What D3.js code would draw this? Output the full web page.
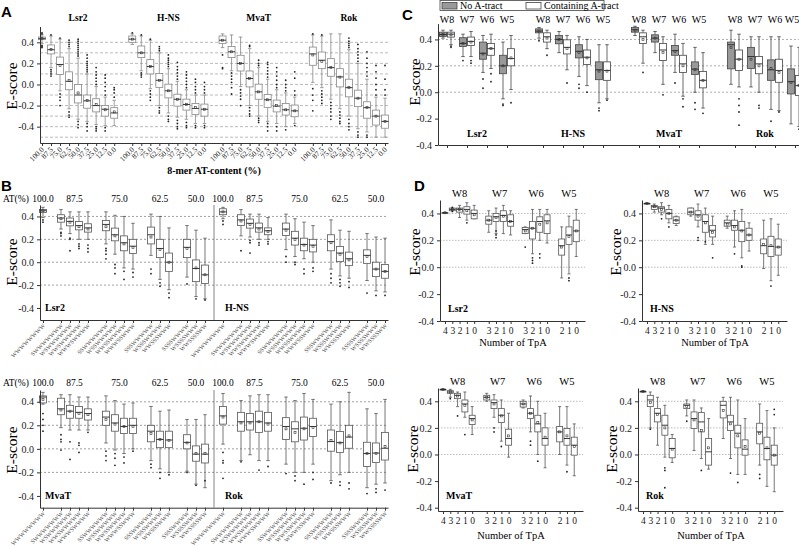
<!DOCTYPE html>
<html>
<head>
<meta charset="UTF-8">
<style>
  body { margin: 0; background: #fff; }
  svg { display: block; }
</style>
</head>
<body>
<div id="chart"></div>
<script src="https://d3js.org/d3.v7.min.js"></script>
<script>
// box rows: [lowWhisker, q1, median, q3, highWhisker, mean, [outliers]]
const proteins = ["Lsr2", "H-NS", "MvaT", "Rok"];

// ---- panel A: 8-mer AT-content
const aTicks = ["100.0", "87.5", "75.0", "62.5", "50.0", "37.5", "25.0", "12.5", "0.0"];
const aLsr2 = [
  [0.39, 0.425, 0.435, 0.45, 0.47, 0.435, [0.35, 0.36, 0.37, 0.48, 0.49]],
  [0.16, 0.29, 0.33, 0.375, 0.46, 0.33, [0.08, 0.1, 0.12, 0.14, 0.47]],
  [-0.06, 0.095, 0.19, 0.26, 0.43, 0.18, [-0.09, -0.12, -0.15, -0.2, 0.44]],
  [-0.23, -0.05, 0.03, 0.12, 0.34, 0.04, [0.36, 0.38, 0.4, 0.42, -0.26, -0.29, -0.31]],
  [-0.33, -0.175, -0.1, 0.0, 0.25, -0.08, [0.27, 0.29, 0.31, 0.33, 0.35, 0.37, 0.39, 0.41, 0.43, -0.35, -0.38, -0.41]],
  [-0.35, -0.225, -0.155, -0.1, 0.1, -0.15, [0.12, 0.14, 0.16, 0.18, 0.2, 0.22, 0.25, 0.28, -0.37, -0.4, -0.44]],
  [-0.38, -0.26, -0.2, -0.135, -0.02, -0.19, [0.0, 0.03, 0.06, 0.09, 0.12, 0.16, -0.4, -0.42, -0.44]],
  [-0.39, -0.3, -0.235, -0.2, -0.12, -0.24, [-0.1, -0.06, -0.02, 0.02, 0.06, 0.09, -0.41, -0.44]],
  [-0.39, -0.32, -0.27, -0.22, -0.15, -0.26, [-0.12, -0.08, -0.05, -0.03]]
];
const aHNS = [
  [0.38, 0.4, 0.43, 0.46, 0.48, 0.43, [0.49]],
  [0.13, 0.255, 0.3, 0.365, 0.46, 0.3, [0.07, 0.09, 0.11, 0.47]],
  [-0.04, 0.1, 0.17, 0.236, 0.42, 0.17, [-0.06, -0.09, -0.12, -0.15, 0.43]],
  [-0.2, -0.028, 0.04, 0.104, 0.3, 0.04, [0.32, 0.34, 0.36, -0.22, -0.25, -0.27]],
  [-0.27, -0.127, -0.06, 0.003, 0.15, -0.06, [0.17, 0.19, 0.21, 0.23, 0.25, 0.28, -0.3, -0.33, -0.35]],
  [-0.31, -0.205, -0.14, -0.092, 0.03, -0.14, [0.05, 0.08, 0.11, 0.14, 0.17, 0.21, -0.34, -0.37, -0.4, -0.42]],
  [-0.33, -0.243, -0.19, -0.139, -0.05, -0.19, [-0.03, 0.0, 0.03, 0.06, 0.09, 0.12, -0.36, -0.39, -0.41]],
  [-0.37, -0.284, -0.227, -0.18, -0.1, -0.22, [-0.08, -0.05, -0.02, 0.02, 0.05, -0.39, -0.41]],
  [-0.37, -0.3, -0.235, -0.186, -0.1, -0.235, [-0.08, -0.05, -0.02, 0.02, -0.39, -0.41]]
];
const aMvaT = [
  [0.35, 0.39, 0.42, 0.46, 0.48, 0.42, [0.28, 0.16, 0.15]],
  [0.13, 0.255, 0.31, 0.36, 0.47, 0.31, [0.11, 0.08, 0.05, 0.02, -0.03, -0.09]],
  [-0.02, 0.128, 0.2, 0.277, 0.45, 0.2, [-0.05, -0.08, -0.11, -0.14, -0.2]],
  [-0.2, -0.023, 0.057, 0.128, 0.34, 0.057, [0.36, 0.37, -0.22, -0.25, -0.28, -0.3]],
  [-0.3, -0.14, -0.07, 0.003, 0.16, -0.07, [0.18, 0.2, 0.23, -0.32, -0.34, -0.36]],
  [-0.35, -0.217, -0.145, -0.095, 0.05, -0.145, [0.07, 0.1, 0.13, 0.16, 0.19, 0.21, -0.37, -0.4, -0.44]],
  [-0.37, -0.26, -0.205, -0.148, -0.05, -0.2, [-0.03, 0.0, 0.04, 0.08, 0.12, 0.16, -0.4, -0.44]],
  [-0.4, -0.29, -0.24, -0.18, -0.08, -0.24, [-0.06, -0.03, 0.0, 0.04, -0.43]],
  [-0.37, -0.306, -0.25, -0.195, -0.12, -0.25, [-0.1, -0.06, 0.06, 0.12, -0.39]]
];
const aRok = [
  [0.02, 0.182, 0.29, 0.355, 0.47, 0.28, [-0.04, -0.1, -0.15, -0.25, 0.48]],
  [-0.03, 0.15, 0.23, 0.308, 0.46, 0.22, [-0.06, -0.09, -0.12, -0.15, -0.18, 0.47]],
  [-0.14, 0.078, 0.16, 0.245, 0.48, 0.16, [-0.17, -0.2, -0.23, -0.26, -0.3, -0.33]],
  [-0.23, -0.023, 0.072, 0.15, 0.48, 0.07, [-0.26, -0.29, -0.32, -0.35, -0.37]],
  [-0.3, -0.117, -0.03, 0.05, 0.33, -0.03, [0.35, 0.37, 0.39, 0.41, 0.44, -0.33, -0.37, -0.4, -0.43]],
  [-0.42, -0.21, -0.13, -0.054, 0.2, -0.13, [0.22, 0.25, 0.28, 0.31, 0.34, 0.38, -0.45, -0.48, -0.5]],
  [-0.45, -0.32, -0.22, -0.164, 0.05, -0.22, [0.08, 0.12, 0.16, 0.2, 0.25, 0.31, -0.48, -0.5]],
  [-0.5, -0.385, -0.3, -0.243, -0.12, -0.3, [-0.1, -0.05, 0.0, 0.06, 0.12, 0.18]],
  [-0.5, -0.415, -0.35, -0.29, -0.13, -0.35, [-0.1, -0.05, 0.05, 0.18]]
];

// ---- panel B: AT(%) groups and 8-mer patterns
const bGroups = ["100.0", "87.5", "75.0", "62.5", "50.0"];
const bGroupSlots = [0, 3.5, 8.5, 13, 17];
const bSlots = [0, 2, 3, 4, 5, 7, 8, 9, 10, 12, 13, 14, 16, 17, 18];
const bPatterns = ["WWWWWWWW", "SWWWWWWW", "WSWWWWWW", "WWSWWWWW", "WWWSWWWW",
  "SSWWWWWW", "WSSWWWWW", "WWSSWWWW", "WWWSSWWW", "SSSWWWWW", "WSSSWWWW", "WWSSSWWW",
  "SSSSWWWW", "WSSSSWWW", "WWSSSSWW"];
const bLsr2 = [
  [0.39, 0.435, 0.45, 0.46, 0.48, 0.45, [0.35, 0.37]],
  [0.29, 0.35, 0.386, 0.415, 0.46, 0.38, [0.23, 0.25, 0.26]],
  [0.25, 0.318, 0.357, 0.386, 0.44, 0.35, [0.1, 0.2, 0.21]],
  [0.2, 0.283, 0.32, 0.356, 0.44, 0.31, [0.12, 0.14, 0.16]],
  [0.2, 0.263, 0.3, 0.336, 0.44, 0.29, [0.09, 0.12, 0.15]],
  [0.16, 0.275, 0.33, 0.365, 0.44, 0.31, [0.03, 0.07, 0.1, 0.12]],
  [0.07, 0.187, 0.24, 0.298, 0.41, 0.23, [-0.02, -0.05, -0.1]],
  [-0.05, 0.1, 0.17, 0.23, 0.4, 0.16, [-0.08, -0.15]],
  [-0.06, 0.076, 0.14, 0.2, 0.34, 0.13, [-0.09, -0.13]],
  [0.06, 0.16, 0.24, 0.307, 0.42, 0.22, [-0.06, -0.1]],
  [-0.15, 0.04, 0.12, 0.2, 0.4, 0.11, [-0.18, -0.21]],
  [-0.24, -0.08, 0.0, 0.08, 0.3, 0.0, [-0.27, -0.31]],
  [-0.13, 0.04, 0.13, 0.2, 0.32, 0.12, [-0.19]],
  [-0.3, -0.17, -0.055, 0.02, 0.28, -0.05, [-0.32]],
  [-0.32, -0.185, -0.11, -0.025, 0.21, -0.11, [-0.33]]
];
const bHNS = [
  [0.38, 0.415, 0.44, 0.467, 0.48, 0.44, [0.36, 0.33]],
  [0.23, 0.32, 0.37, 0.415, 0.46, 0.36, [0.1]],
  [0.22, 0.298, 0.34, 0.377, 0.42, 0.33, [0.08, 0.17, 0.19]],
  [0.2, 0.263, 0.3, 0.342, 0.42, 0.29, [0.15, 0.17]],
  [0.2, 0.24, 0.275, 0.3, 0.39, 0.27, [0.16, 0.18]],
  [0.11, 0.233, 0.29, 0.342, 0.42, 0.28, [0.0, 0.05]],
  [0.05, 0.15, 0.21, 0.27, 0.38, 0.2, [-0.02, 0.0]],
  [0.03, 0.1, 0.155, 0.21, 0.35, 0.15, [-0.06, -0.1]],
  [0.0, 0.09, 0.15, 0.2, 0.32, 0.14, [-0.05, -0.08]],
  [-0.06, 0.1, 0.18, 0.24, 0.37, 0.17, [-0.1, -0.14, -0.18]],
  [-0.12, 0.005, 0.08, 0.137, 0.28, 0.07, [-0.15, -0.18, -0.21]],
  [-0.14, -0.03, 0.03, 0.088, 0.27, 0.02, [-0.17, -0.22]],
  [-0.16, -0.01, 0.06, 0.108, 0.25, 0.05, [-0.27]],
  [-0.25, -0.126, -0.06, 0.0, 0.22, -0.06, [-0.29]],
  [-0.26, -0.14, -0.08, -0.02, 0.21, -0.08, [-0.29]]
];
const bMvaT = [
  [0.38, 0.39, 0.44, 0.45, 0.48, 0.42, [0.3, 0.25, 0.2, 0.15]],
  [0.18, 0.29, 0.34, 0.43, 0.46, 0.33, [0.12, 0.08, 0.06, -0.01]],
  [0.16, 0.26, 0.32, 0.37, 0.46, 0.32, [0.06, -0.09]],
  [0.16, 0.26, 0.31, 0.36, 0.44, 0.3, [0.05, 0.03, -0.03]],
  [0.16, 0.245, 0.3, 0.34, 0.44, 0.29, [0.14]],
  [0.05, 0.2, 0.27, 0.32, 0.45, 0.25, [-0.02, -0.06, -0.1]],
  [-0.01, 0.15, 0.22, 0.29, 0.41, 0.21, [-0.04, -0.08, -0.14]],
  [-0.04, 0.13, 0.19, 0.26, 0.38, 0.19, [-0.07, -0.12]],
  [0.0, 0.13, 0.2, 0.26, 0.39, 0.19, [-0.02]],
  [-0.1, 0.06, 0.15, 0.2, 0.36, 0.13, [-0.13, -0.16]],
  [-0.17, 0.01, 0.08, 0.15, 0.32, 0.08, [-0.2, -0.25]],
  [-0.2, 0.01, 0.075, 0.15, 0.33, 0.07, [-0.22]],
  [-0.19, 0.0, 0.055, 0.12, 0.25, 0.05, [-0.2]],
  [-0.3, -0.105, -0.045, 0.025, 0.25, -0.04, [-0.31]],
  [-0.33, -0.12, -0.045, 0.04, 0.29, -0.04, [-0.27]]
];
const bRok = [
  [0.04, 0.21, 0.28, 0.36, 0.47, 0.27, [-0.03, -0.1, -0.12, -0.25]],
  [-0.1, 0.15, 0.23, 0.31, 0.41, 0.22, [-0.11]],
  [-0.05, 0.16, 0.23, 0.3, 0.45, 0.22, []],
  [-0.1, 0.14, 0.23, 0.32, 0.46, 0.23, [-0.18]],
  [-0.1, 0.15, 0.22, 0.31, 0.46, 0.21, [-0.15]],
  [-0.13, 0.08, 0.19, 0.265, 0.44, 0.17, [-0.21]],
  [-0.2, 0.06, 0.17, 0.23, 0.41, 0.14, [-0.23, -0.27]],
  [-0.2, 0.075, 0.175, 0.27, 0.47, 0.17, [-0.3]],
  [-0.13, 0.105, 0.19, 0.26, 0.42, 0.18, [-0.2, -0.26]],
  [-0.27, -0.02, 0.062, 0.16, 0.38, 0.07, [-0.29]],
  [-0.22, -0.03, 0.053, 0.147, 0.4, 0.05, [-0.28, -0.31]],
  [-0.2, 0.005, 0.1, 0.2, 0.48, 0.11, [-0.29, -0.34]],
  [-0.33, -0.15, -0.04, 0.056, 0.34, -0.04, [-0.38]],
  [-0.3, -0.115, -0.036, 0.05, 0.3, -0.04, [-0.34, -0.37]],
  [-0.29, -0.095, 0.005, 0.14, 0.42, 0.02, [-0.35]]
];

// ---- panel C: windows, no A-tract / containing A-tract pairs
const windows = ["W8", "W7", "W6", "W5"];
const cSeries = ["No A-tract", "Containing A-tract"];
const cLsr2 = [
  [0.41, 0.423, 0.437, 0.455, 0.47, 0.437, []],
  [0.36, 0.418, 0.44, 0.455, 0.47, 0.435, [0.34, 0.35]],
  [0.27, 0.347, 0.37, 0.413, 0.44, 0.37, [0.24]],
  [0.27, 0.354, 0.385, 0.418, 0.46, 0.38, [0.22, 0.24]],
  [0.15, 0.25, 0.295, 0.38, 0.43, 0.29, [0.1, 0.03]],
  [0.18, 0.28, 0.33, 0.37, 0.44, 0.33, [0.08, 0.14]],
  [-0.05, 0.14, 0.2, 0.28, 0.38, 0.2, [-0.1, -0.09]],
  [0.02, 0.2, 0.255, 0.33, 0.43, 0.26, [-0.08]]
];
const cHNS = [
  [0.41, 0.45, 0.463, 0.48, 0.49, 0.463, [0.39]],
  [0.33, 0.38, 0.42, 0.45, 0.47, 0.41, [0.28]],
  [0.3, 0.367, 0.4, 0.43, 0.46, 0.4, []],
  [0.17, 0.29, 0.34, 0.397, 0.43, 0.33, [0.07]],
  [0.12, 0.26, 0.31, 0.36, 0.42, 0.3, [0.03, 0.06]],
  [0.05, 0.21, 0.265, 0.32, 0.4, 0.26, [0.0]],
  [-0.08, 0.095, 0.17, 0.23, 0.36, 0.16, [-0.12, -0.14]],
  [-0.05, 0.09, 0.165, 0.23, 0.36, 0.16, [-0.06]]
];
const cMvaT = [
  [0.43, 0.455, 0.473, 0.49, 0.5, 0.47, []],
  [0.22, 0.37, 0.42, 0.45, 0.47, 0.4, [0.15]],
  [0.3, 0.38, 0.41, 0.435, 0.46, 0.41, []],
  [0.06, 0.24, 0.32, 0.37, 0.42, 0.3, [-0.02]],
  [0.15, 0.28, 0.315, 0.354, 0.44, 0.31, [0.07]],
  [-0.03, 0.15, 0.215, 0.28, 0.37, 0.2, [-0.11, -0.05]],
  [0.0, 0.135, 0.175, 0.23, 0.34, 0.17, [-0.13, -0.08]],
  [-0.12, 0.033, 0.09, 0.157, 0.3, 0.09, [-0.16]]
];
const cRok = [
  [0.06, 0.177, 0.36, 0.38, 0.47, 0.34, []],
  [0.04, 0.165, 0.25, 0.32, 0.44, 0.25, [-0.05, -0.1, -0.15, -0.25]],
  [0.04, 0.18, 0.27, 0.34, 0.42, 0.25, []],
  [0.0, 0.14, 0.215, 0.27, 0.42, 0.2, [-0.1, -0.12]],
  [-0.13, 0.09, 0.17, 0.245, 0.42, 0.18, [-0.22]],
  [-0.14, 0.075, 0.165, 0.25, 0.42, 0.15, [-0.15]],
  [-0.24, -0.013, 0.08, 0.177, 0.35, 0.075, []],
  [-0.26, -0.025, 0.05, 0.127, 0.34, 0.05, [-0.28]]
];

// ---- panel D: number of TpA per window
const dSlots = [0, 1, 2, 3, 4, 6, 7, 8, 9, 11, 12, 13, 14, 16, 17, 18];
const dTicks = ["4", "3", "2", "1", "0", "3", "2", "1", "0", "3", "2", "1", "0", "2", "1", "0"];
const dWindowSlots = [2, 7.5, 12.5, 17];
const dLsr2 = [
  [0.405, 0.405, 0.405, 0.405, 0.405, 0.405, []],
  [0.42, 0.42, 0.43, 0.44, 0.44, 0.43, [0.445, 0.415]],
  [0.37, 0.41, 0.43, 0.44, 0.46, 0.43, []],
  [0.35, 0.395, 0.43, 0.45, 0.48, 0.42, [0.33]],
  [0.36, 0.36, 0.4, 0.425, 0.46, 0.39, []],
  [0.26, 0.32, 0.35, 0.38, 0.42, 0.35, []],
  [0.25, 0.34, 0.375, 0.4, 0.44, 0.37, [0.22, 0.24, 0.27]],
  [0.25, 0.34, 0.385, 0.42, 0.46, 0.38, []],
  [0.24, 0.305, 0.34, 0.39, 0.42, 0.34, []],
  [0.25, 0.25, 0.28, 0.295, 0.3, 0.27, [0.15]],
  [0.1, 0.21, 0.29, 0.34, 0.43, 0.29, [0.03, 0.05, 0.07]],
  [0.2, 0.26, 0.34, 0.375, 0.43, 0.32, [0.07, 0.1]],
  [0.18, 0.25, 0.345, 0.39, 0.43, 0.33, []],
  [-0.08, 0.09, 0.16, 0.21, 0.3, 0.15, []],
  [-0.05, 0.17, 0.24, 0.3, 0.38, 0.23, [-0.08, -0.1]],
  [0.08, 0.19, 0.27, 0.35, 0.43, 0.27, []]
];
const dHNS = [
  [0.475, 0.475, 0.475, 0.475, 0.475, 0.475, []],
  [0.41, 0.43, 0.45, 0.46, 0.47, 0.45, []],
  [0.39, 0.41, 0.44, 0.45, 0.48, 0.43, [0.36]],
  [0.33, 0.36, 0.4, 0.43, 0.46, 0.4, [0.3]],
  [0.31, 0.325, 0.35, 0.375, 0.38, 0.35, []],
  [0.38, 0.39, 0.41, 0.44, 0.44, 0.41, []],
  [0.3, 0.35, 0.39, 0.42, 0.47, 0.38, [0.2, 0.22]],
  [0.17, 0.26, 0.34, 0.39, 0.44, 0.33, [0.19]],
  [0.17, 0.225, 0.275, 0.31, 0.38, 0.26, [0.07]],
  [0.29, 0.305, 0.33, 0.35, 0.38, 0.32, []],
  [0.15, 0.275, 0.31, 0.35, 0.42, 0.3, [0.1]],
  [0.07, 0.19, 0.275, 0.34, 0.43, 0.27, [0.0, 0.01]],
  [0.12, 0.2, 0.24, 0.29, 0.33, 0.24, []],
  [-0.01, 0.1, 0.16, 0.21, 0.35, 0.17, []],
  [-0.1, 0.08, 0.155, 0.23, 0.36, 0.16, [-0.14]],
  [-0.06, 0.09, 0.15, 0.21, 0.32, 0.15, []]
];
const dMvaT = [
  [0.49, 0.49, 0.49, 0.49, 0.49, 0.49, []],
  [0.43, 0.46, 0.47, 0.48, 0.49, 0.47, [0.42]],
  [0.36, 0.42, 0.445, 0.46, 0.47, 0.44, [0.29]],
  [0.28, 0.32, 0.38, 0.41, 0.47, 0.37, [0.15]],
  [0.15, 0.225, 0.27, 0.295, 0.36, 0.26, []],
  [0.4, 0.41, 0.43, 0.445, 0.46, 0.43, []],
  [0.28, 0.345, 0.39, 0.41, 0.45, 0.38, [0.2, 0.17]],
  [0.1, 0.24, 0.295, 0.345, 0.41, 0.29, [0.06]],
  [-0.02, 0.07, 0.12, 0.19, 0.31, 0.14, []],
  [0.35, 0.357, 0.38, 0.4, 0.41, 0.38, []],
  [0.17, 0.27, 0.31, 0.345, 0.44, 0.31, [0.1, 0.07]],
  [0.0, 0.17, 0.23, 0.295, 0.4, 0.24, [-0.05]],
  [-0.1, 0.07, 0.12, 0.2, 0.31, 0.13, []],
  [0.0, 0.095, 0.17, 0.21, 0.36, 0.17, []],
  [-0.08, 0.07, 0.12, 0.195, 0.36, 0.14, [-0.13]],
  [-0.16, -0.005, 0.07, 0.13, 0.23, 0.06, []]
];
const dRok = [
  [0.475, 0.475, 0.475, 0.475, 0.475, 0.475, []],
  [0.2, 0.36, 0.41, 0.445, 0.47, 0.39, [0.19]],
  [0.07, 0.245, 0.31, 0.345, 0.43, 0.3, []],
  [-0.02, 0.145, 0.22, 0.295, 0.37, 0.2, [-0.1, -0.12, -0.25]],
  [-0.06, -0.025, 0.045, 0.12, 0.15, 0.04, []],
  [0.29, 0.345, 0.37, 0.38, 0.41, 0.36, [0.25]],
  [0.03, 0.195, 0.27, 0.32, 0.41, 0.26, []],
  [-0.03, 0.17, 0.245, 0.315, 0.35, 0.18, [-0.12]],
  [-0.11, -0.08, 0.02, 0.12, 0.27, 0.05, []],
  [0.12, 0.275, 0.37, 0.4, 0.43, 0.33, []],
  [-0.03, 0.18, 0.245, 0.295, 0.43, 0.23, [-0.14]],
  [-0.15, 0.05, 0.16, 0.22, 0.41, 0.14, [-0.21]],
  [-0.15, -0.005, 0.04, 0.11, 0.27, 0.06, []],
  [-0.08, 0.08, 0.17, 0.235, 0.38, 0.16, [-0.15, -0.18]],
  [-0.24, -0.04, 0.045, 0.13, 0.33, 0.05, []],
  [-0.28, -0.08, -0.005, 0.07, 0.2, -0.005, [0.34, 0.3]]
];

const serif = "'Liberation Serif','Times New Roman',serif";
const sans = "'Liberation Sans',Arial,sans-serif";
const fmt = d => d.toFixed(1);

const svg = d3.select("#chart").append("svg")
  .attr("width", 799).attr("height", 546)
  .style("background", "#fff");

function styleAxis(sel, size) {
  sel.attr("font-family", serif).attr("font-size", size || 10);
  sel.select(".domain").attr("stroke", "#333");
  sel.selectAll(".tick line").attr("stroke", "#333");
  sel.selectAll(".tick text").attr("fill", "#222");
}

function grid(g, y, vals, x0, x1, dash, color) {
  g.append("g").selectAll("line").data(vals).join("line")
    .attr("x1", x0).attr("x2", x1)
    .attr("y1", d => y(d)).attr("y2", d => y(d))
    .attr("stroke", color).attr("stroke-width", 0.8)
    .attr("stroke-dasharray", dash);
}

function drawBoxes(g, data, xs, y, w, fill, stroke) {
  const b = g.append("g").selectAll("g").data(data).join("g")
    .attr("transform", (d, i) => `translate(${xs[i]},0)`);
  b.append("line").attr("y1", d => y(d[4])).attr("y2", d => y(d[3]))
    .attr("stroke", stroke).attr("stroke-width", 0.8);
  b.append("line").attr("y1", d => y(d[1])).attr("y2", d => y(d[0]))
    .attr("stroke", stroke).attr("stroke-width", 0.8);
  b.selectAll(".cap").data(d => [d[0], d[4]]).join("line").attr("class", "cap")
    .attr("x1", -w * 0.25).attr("x2", w * 0.25)
    .attr("y1", d => y(d)).attr("y2", d => y(d))
    .attr("stroke", stroke).attr("stroke-width", 0.8);
  b.append("rect")
    .attr("x", -w / 2).attr("width", w)
    .attr("y", d => y(d[3])).attr("height", d => Math.max(0.8, y(d[1]) - y(d[3])))
    .attr("fill", (d, i) => typeof fill === "function" ? fill(i) : fill)
    .attr("stroke", stroke).attr("stroke-width", 0.8);
  b.append("line").attr("x1", -w / 2).attr("x2", w / 2)
    .attr("y1", d => y(d[2])).attr("y2", d => y(d[2]))
    .attr("stroke", "#222").attr("stroke-width", 0.9);
  b.append("rect")
    .attr("x", -1).attr("width", 2).attr("y", d => y(d[5]) - 1).attr("height", 2)
    .attr("fill", "none").attr("stroke", "#333").attr("stroke-width", 0.6);
  b.selectAll(".out").data(d => d[6]).join("circle").attr("class", "out")
    .attr("cy", d => y(d)).attr("r", 0.9).attr("fill", "#222");
}

function panelLetter(t, x, y) {
  svg.append("text").attr("x", x).attr("y", y).text(t)
    .attr("font-family", sans).attr("font-weight", "bold").attr("font-size", 15);
}

function yLabel(x, y, size) {
  svg.append("text").attr("transform", `translate(${x},${y}) rotate(-90)`)
    .attr("text-anchor", "middle").attr("font-family", serif)
    .attr("font-size", size || 15.5).text("E-score");
}

// ================= Panel A =================
panelLetter("A", 1, 17);
const gA = svg.append("g");
const xA = d3.scaleLinear().domain([-0.22, 38.33]).range([40, 388]);
const yA = d3.scaleLinear().domain([-0.555, 0.55]).range([143, 26.5]);
grid(gA, yA, d3.range(-5, 5).map(v => v / 10), 40, 388, "3,2", "#aaa");

const aData = [aLsr2, aHNS, aMvaT, aRok];
const aSlots = [], aLabels = [];
proteins.forEach((p, pi) => {
  aTicks.forEach((t, i) => { aSlots.push(pi * 10 + i); aLabels.push(t); });
  drawBoxes(gA, aData[pi], aTicks.map((t, i) => xA(pi * 10 + i)), yA, 7, "#fff", "#888");
  gA.append("text").attr("x", xA(pi * 10 + 4)).attr("y", 21)
    .attr("text-anchor", "middle").attr("font-family", serif)
    .attr("font-weight", "bold").attr("font-size", 9.5).text(p);
});
const axA = gA.append("g").attr("transform", "translate(0,143)")
  .call(d3.axisBottom(xA).tickValues(aSlots).tickFormat((d, i) => aLabels[i]).tickSize(3).tickSizeOuter(0));
styleAxis(axA, 7.5);
axA.selectAll(".tick text").attr("y", 0).attr("dy", 0)
  .attr("transform", "translate(2,7) rotate(-45)").attr("text-anchor", "end");
const ayA = gA.append("g").attr("transform", "translate(40,0)")
  .call(d3.axisLeft(yA).tickValues([-0.4, -0.2, 0, 0.2, 0.4]).tickFormat(fmt).tickSize(3).tickSizeOuter(0));
styleAxis(ayA, 10);
gA.append("text").attr("x", 214).attr("y", 174).attr("text-anchor", "middle")
  .attr("font-family", serif).attr("font-weight", "bold").attr("font-size", 10)
  .text("8-mer AT-content (%)");
yLabel(17, 86);

// ================= Panel B =================
panelLetter("B", 1, 191);
const xB = d3.scaleLinear().domain([-0.33, 38.33]).range([40, 388]);
function panelB(top, bottom, yDomain, headerY, leftData, rightData, names) {
  const g = svg.append("g");
  const y = d3.scaleLinear().domain(yDomain).range([bottom, top]);
  grid(g, y, [-0.2, 0, 0.2, 0.4], 40, 388, "2,2", "#888");
  g.append("line").attr("x1", xB(19)).attr("x2", xB(19)).attr("y1", top).attr("y2", bottom)
    .attr("stroke", "#666").attr("stroke-width", 0.8);
  const slots = [], labels = [];
  [leftData, rightData].forEach((data, k) => {
    const off = k * 20;
    drawBoxes(g, data, bSlots.map(s => xB(s + off)), y, 7, "#fff", "#555");
    bSlots.forEach((s, i) => { slots.push(s + off); labels.push(bPatterns[i]); });
    bGroups.forEach((t, i) => {
      g.append("text").attr("x", xB(bGroupSlots[i] + off)).attr("y", headerY)
        .attr("text-anchor", "middle").attr("font-family", serif).attr("font-size", 9.5).text(t);
    });
    g.append("text").attr("x", xB(off) + 2).attr("y", bottom - 9)
      .attr("font-family", serif).attr("font-weight", "bold").attr("font-size", 10).text(names[k]);
  });
  g.append("text").attr("x", 3).attr("y", headerY).attr("font-family", serif)
    .attr("font-size", 9.5).text("AT(%)");
  const ax = g.append("g").attr("transform", `translate(0,${bottom})`)
    .call(d3.axisBottom(xB).tickValues(slots).tickFormat((d, i) => labels[i]).tickSize(3).tickSizeOuter(0));
  styleAxis(ax, 6);
  ax.selectAll(".tick text").attr("y", 0).attr("dy", 0)
    .attr("transform", "translate(2,6) rotate(-45)").attr("text-anchor", "end").attr("fill", "#555");
  const ay = g.append("g").attr("transform", "translate(40,0)")
    .call(d3.axisLeft(y).tickValues([-0.4, -0.2, 0, 0.2, 0.4]).tickFormat(fmt).tickSize(3).tickSizeOuter(0));
  styleAxis(ay, 10);
}
panelB(205, 320, [-0.505, 0.5], 202, bLsr2, bHNS, ["Lsr2", "H-NS"]);
panelB(390, 507.7, [-0.5, 0.5], 386, bMvaT, bRok, ["MvaT", "Rok"]);
yLabel(17, 262);
yLabel(17, 450);

// ================= Panel C =================
panelLetter("C", 402, 20);
const gC = svg.append("g");
const yC = d3.scaleLinear().domain([-0.4, 0.52]).range([145, 23.6]);
const pC = d3.scaleBand().domain(proteins).range([438, 822]);
const wC = d3.scalePoint().domain(windows).range([9, 69]);
grid(gC, yC, [0, 0.2, 0.4], 438, 799, "2,2", "#999");
const cData = [cLsr2, cHNS, cMvaT, cRok];
const cXs = [];
proteins.forEach((p, pi) => {
  const xs = [];
  windows.forEach(w => { const c = pC(p) + wC(w); xs.push(c - 4, c + 4); cXs.push(c); });
  drawBoxes(gC, cData[pi], xs, yC, 7, i => i % 2 === 0 ? "#999" : "#fff", "#444");
  windows.forEach(w => {
    gC.append("text").attr("x", Math.min(pC(p) + wC(w), 792)).attr("y", 23).attr("text-anchor", "middle")
      .attr("font-family", serif).attr("font-size", 10).text(w);
  });
  gC.append("text").attr("x", pC(p) + 39).attr("y", 137).attr("text-anchor", "middle")
    .attr("font-family", serif).attr("font-weight", "bold").attr("font-size", 10).text(p);
});
const xCaxis = d3.scaleLinear().domain([438, 799]).range([438, 799]);
const axC = gC.append("g").attr("transform", "translate(0,145)")
  .call(d3.axisBottom(xCaxis).tickValues(cXs).tickFormat("").tickSize(3).tickSizeOuter(0));
styleAxis(axC, 8);
const ayC = gC.append("g").attr("transform", "translate(438,0)")
  .call(d3.axisLeft(yC).tickValues([-0.4, -0.2, 0, 0.2, 0.4]).tickFormat(fmt).tickSize(3).tickSizeOuter(0));
styleAxis(ayC, 10);
yLabel(420, 82);
// legend
const lg = svg.append("g");
lg.append("rect").attr("x", 440).attr("y", 0.5).attr("width", 164).attr("height", 10)
  .attr("fill", "#fff").attr("stroke", "#444").attr("stroke-width", 0.8);
cSeries.forEach((s, i) => {
  const x0 = i === 0 ? 442 : 526;
  lg.append("rect").attr("x", x0).attr("y", 2.5).attr("width", 15).attr("height", 6.5)
    .attr("fill", i === 0 ? "#999" : "#fff").attr("stroke", "#444").attr("stroke-width", 0.8);
  lg.append("text").attr("x", x0 + 18).attr("y", 9).attr("font-family", serif)
    .attr("font-size", 10).text(s);
});

// ================= Panel D =================
panelLetter("D", 414, 191);
function panelD(x0, top, bottom, yMin, data, name, labelX, labelY, titleY) {
  const g = svg.append("g");
  const y = d3.scaleLinear().domain([yMin, 0.5]).range([bottom, top]);
  const x = d3.scaleLinear().domain([-0.685, 19.2]).range([x0, x0 + 145]);
  grid(g, y, [0, 0.2, 0.4], x0, x0 + 145, "1.5,1.5", "#aaa");
  drawBoxes(g, data, dSlots.map(s => x(s)), y, 6, "#fff", "#555");
  windows.forEach((w, i) => {
    g.append("text").attr("x", x(dWindowSlots[i])).attr("y", top - 3).attr("text-anchor", "middle")
      .attr("font-family", serif).attr("font-size", 10.5).text(w);
  });
  g.append("text").attr("x", x0 + 8).attr("y", y(-0.4) - 9).attr("font-family", serif)
    .attr("font-weight", "bold").attr("font-size", 10).text(name);
  const ax = g.append("g").attr("transform", `translate(0,${bottom})`)
    .call(d3.axisBottom(x).tickValues(dSlots).tickFormat((d, i) => dTicks[i]).tickSize(3).tickSizeOuter(0));
  styleAxis(ax, 9.5);
  const ay = g.append("g").attr("transform", `translate(${x0},0)`)
    .call(d3.axisLeft(y).tickValues([-0.4, -0.2, 0, 0.2, 0.4]).tickFormat(fmt).tickSize(3).tickSizeOuter(0));
  styleAxis(ay, 10);
  g.append("text").attr("x", x0 + 73).attr("y", titleY).attr("text-anchor", "middle")
    .attr("font-family", serif).attr("font-size", 10.5).text("Number of TpA");
  yLabel(labelX, labelY);
}
panelD(440, 200, 321, -0.4, dLsr2, "Lsr2", 420, 252, 346);
panelD(642, 200, 321, -0.4, dHNS, "H-NS", 621, 252, 346);
panelD(438, 388, 511, -0.425, dMvaT, "MvaT", 418, 449, 539);
panelD(638, 388, 511, -0.425, dRok, "Rok", 617, 449, 539);
</script>
</body>
</html>
